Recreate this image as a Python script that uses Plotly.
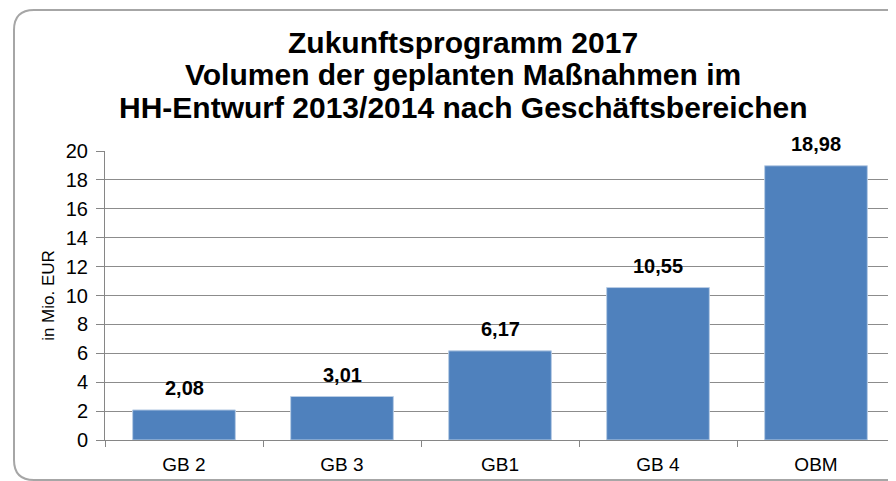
import plotly.graph_objects as go

# data
categories = ["GB 2", "GB 3", "GB1", "GB 4", "OBM"]
values = [2.08, 3.01, 6.17, 10.55, 18.98]
y_ticks = [0, 2, 4, 6, 8, 10, 12, 14, 16, 18, 20]
title_lines = [
    "Zukunftsprogramm 2017",
    "Volumen der geplanten Maßnahmen im",
    "HH-Entwurf 2013/2014 nach Geschäftsbereichen",
]

# the page body adds an 8px offset, so the figure is a bit smaller
OFF = 8
W, H = 896 - OFF, 481 - OFF
L, R, T, B = 105 - OFF, 1, 151 - OFF, 481 - 440
PW, PH = W - L - R, H - T - B
FONT = "Liberation Sans, Arial"


def px(x, y):
    # screen pixel position -> paper coordinates
    x, y = x - OFF, y - OFF
    return (x - L) / PW, (H - B - y) / PH


def frame_path(x0, y0, x1, y1, r):
    pts = []
    a = px(x1, y0); pts.append(f"M {a[0]} {a[1]}")
    a = px(x0 + r, y0); pts.append(f"L {a[0]} {a[1]}")
    a = px(x0, y0); b = px(x0, y0 + r); pts.append(f"Q {a[0]} {a[1]} {b[0]} {b[1]}")
    a = px(x0, y1 - r); pts.append(f"L {a[0]} {a[1]}")
    a = px(x0, y1); b = px(x0 + r, y1); pts.append(f"Q {a[0]} {a[1]} {b[0]} {b[1]}")
    a = px(x1, y1); pts.append(f"L {a[0]} {a[1]}")
    return " ".join(pts)


fig = go.Figure()
fig.add_trace(go.Bar(
    x=categories, y=values, width=0.65,
    marker=dict(color="#4F81BD", line=dict(color="#B9CDE5", width=1)),
    hoverinfo="skip",
))

for c, v in zip(categories, values):
    fig.add_annotation(
        x=c, y=v, text=f"<b>{v:.2f}</b>".replace(".", ","),
        showarrow=False, yanchor="bottom", yshift=9,
        font=dict(family=FONT, size=20, color="#000000"),
    )

# title as three separate lines to control the line spacing
for i, line in enumerate(title_lines):
    xp, yp = px(463, 42 + i * 33)
    fig.add_annotation(
        xref="paper", yref="paper", x=xp, y=yp, text=f"<b>{line}</b>",
        showarrow=False, xanchor="center", yanchor="middle",
        font=dict(family=FONT, size=30, color="#000000"),
    )

fig.add_shape(type="path", xref="paper", yref="paper",
              path=frame_path(14, 10, 905, 480, 20),
              line=dict(color="#A6A6A6", width=2), layer="below")

fig.update_layout(
    width=W, height=H,
    margin=dict(l=L, r=R, t=T, b=B, autoexpand=False),
    paper_bgcolor="white", plot_bgcolor="white",
    showlegend=False,
    font=dict(family=FONT, color="#000000"),
    xaxis=dict(
        automargin=False,
        showline=True, linecolor="#868686", linewidth=1,
        ticks="outside", tickson="boundaries", ticklen=6, tickcolor="#868686",
        tickfont=dict(size=19), showgrid=False, ticklabelstandoff=7,
    ),
    yaxis=dict(
        automargin=False,
        range=[0, 20], tickvals=y_ticks,
        showline=True, linecolor="#868686", linewidth=1,
        ticks="outside", ticklen=8, tickcolor="#868686",
        gridcolor="#8C8C8C", gridwidth=1, ticklabelstandoff=4,
        tickfont=dict(size=20), zeroline=False,
        title=dict(text="in Mio. EUR", font=dict(size=17), standoff=6),
    ),
)

fig.write_html("out.html")
